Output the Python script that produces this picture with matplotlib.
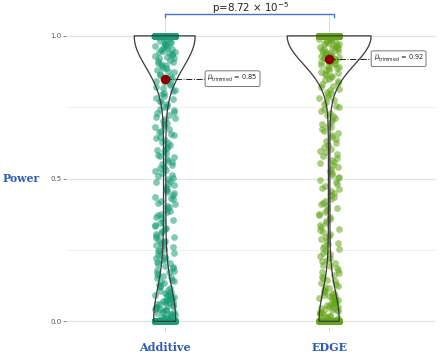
import numpy as np
import matplotlib
matplotlib.use("Agg")
import matplotlib.pyplot as plt

# ---------------- data ----------------
groups = ["Additive", "EDGE"]
group_colors = ["#1B9E77", "#66A61E"]

# number of simulations with power exactly 1 and exactly 0
additive_at_one = 1300
additive_at_zero = 430
edge_at_one = 2100
edge_at_zero = 470

additive_values = [
    0.995, 0.991, 0.988, 0.984, 0.982, 0.979, 0.976, 0.973, 0.971, 0.968, 0.965, 0.963, 0.959,
    0.957, 0.954, 0.951, 0.948, 0.945, 0.943, 0.939, 0.936, 0.934, 0.930, 0.927, 0.924, 0.921,
    0.917, 0.913, 0.910, 0.905, 0.901, 0.897, 0.894, 0.889, 0.886, 0.881, 0.877, 0.872, 0.868,
    0.863, 0.858, 0.853, 0.849, 0.843, 0.838, 0.833, 0.827, 0.822, 0.816, 0.811, 0.806, 0.801,
    0.795, 0.790, 0.783, 0.779, 0.772, 0.767, 0.762, 0.756, 0.751, 0.745, 0.741, 0.734, 0.729,
    0.723, 0.717, 0.713, 0.707, 0.701, 0.696, 0.691, 0.684, 0.679, 0.674, 0.668, 0.662, 0.657,
    0.651, 0.645, 0.641, 0.634, 0.629, 0.623, 0.617, 0.611, 0.606, 0.600,
    0.596, 0.591, 0.584, 0.580, 0.574, 0.568, 0.563, 0.558, 0.552, 0.547, 0.541, 0.536, 0.530,
    0.525, 0.519, 0.514, 0.509, 0.503, 0.497, 0.492, 0.487, 0.481, 0.476, 0.470, 0.465, 0.459,
    0.454, 0.449, 0.443, 0.437, 0.432, 0.427, 0.421, 0.415, 0.410, 0.405, 0.399, 0.394, 0.388,
    0.383, 0.377, 0.371, 0.366, 0.361, 0.355, 0.349, 0.344, 0.339, 0.333, 0.327, 0.322, 0.317,
    0.311, 0.305, 0.300,
    0.296, 0.291, 0.286, 0.282, 0.277, 0.273, 0.268, 0.263, 0.259, 0.254, 0.249, 0.245, 0.240,
    0.236, 0.231, 0.226, 0.222, 0.217, 0.213, 0.208, 0.204, 0.199, 0.194, 0.190, 0.186, 0.181,
    0.177, 0.172, 0.168, 0.163, 0.159, 0.154, 0.150, 0.146, 0.141, 0.137, 0.133, 0.128, 0.124,
    0.120, 0.115, 0.111, 0.107, 0.103,
    0.099, 0.097, 0.094, 0.092, 0.090, 0.088, 0.086, 0.083, 0.081, 0.079, 0.077, 0.075, 0.072,
    0.070, 0.068, 0.066, 0.064, 0.062, 0.059, 0.057, 0.055, 0.053, 0.051, 0.049, 0.046, 0.044,
    0.042, 0.040, 0.038, 0.036, 0.033, 0.031, 0.029, 0.027, 0.025, 0.023, 0.020, 0.018, 0.016,
    0.014, 0.012, 0.010, 0.007, 0.005, 0.003,
]

edge_values = [
    0.996, 0.993, 0.991, 0.989, 0.986, 0.984, 0.982, 0.980, 0.977, 0.975, 0.973, 0.971, 0.968,
    0.966, 0.964, 0.962, 0.959, 0.957, 0.955, 0.952, 0.950, 0.948, 0.945, 0.943, 0.941, 0.938,
    0.936, 0.933, 0.931, 0.928, 0.926, 0.923, 0.921, 0.918, 0.915, 0.913, 0.910, 0.907, 0.904,
    0.901, 0.898, 0.895, 0.892, 0.889, 0.886, 0.882, 0.879, 0.875, 0.871, 0.867, 0.863, 0.859,
    0.855, 0.850, 0.846, 0.841, 0.836, 0.831, 0.826, 0.821, 0.815, 0.810, 0.804, 0.799,
    0.793, 0.787, 0.781, 0.775, 0.769, 0.763, 0.756, 0.750, 0.744, 0.737, 0.731, 0.724, 0.718,
    0.711, 0.705, 0.698, 0.692, 0.685, 0.679, 0.672, 0.666, 0.659, 0.652, 0.646, 0.639, 0.632,
    0.626, 0.619, 0.612, 0.605,
    0.598, 0.592, 0.585, 0.579, 0.572, 0.566, 0.559, 0.553, 0.546, 0.540, 0.533, 0.527, 0.520,
    0.514, 0.507, 0.501, 0.494, 0.488, 0.481, 0.475, 0.468, 0.462, 0.455, 0.449, 0.442, 0.436,
    0.429, 0.423, 0.416, 0.410, 0.403, 0.397, 0.390, 0.384, 0.377, 0.371, 0.364, 0.358, 0.351,
    0.345, 0.338, 0.332, 0.325, 0.319, 0.312, 0.306, 0.300,
    0.294, 0.288, 0.282, 0.276, 0.270, 0.264, 0.258, 0.252, 0.246, 0.240, 0.234, 0.228, 0.222,
    0.216, 0.210, 0.204, 0.198, 0.192, 0.186, 0.180, 0.174, 0.168, 0.162, 0.156, 0.150, 0.145,
    0.140, 0.135, 0.130, 0.125, 0.120, 0.115, 0.110, 0.105, 0.101,
    0.098, 0.095, 0.093, 0.090, 0.088, 0.085, 0.083, 0.080, 0.078, 0.075, 0.073, 0.070, 0.068,
    0.065, 0.063, 0.060, 0.058, 0.055, 0.053, 0.050, 0.048, 0.045, 0.043, 0.040, 0.038, 0.035,
    0.033, 0.030, 0.028, 0.025, 0.023, 0.020, 0.018, 0.015, 0.013, 0.010, 0.008, 0.005, 0.003,
]

trimmed_means = [0.85, 0.92]
p_value_text = r"p=8.72 $\times$ 10$^{-5}$"

# ---------------- figure ----------------
blue = "#2F5DB5"
fig = plt.figure(figsize=(4.40, 3.62), dpi=100)
ax = fig.add_axes([0.15, 0.0967, 0.841, 0.820])
ax.set_xlim(0.40, 2.65)
ax.set_ylim(-0.02, 1.02)

datasets = [
    np.array(additive_values + [1.0] * additive_at_one + [0.0] * additive_at_zero),
    np.array(edge_values + [1.0] * edge_at_one + [0.0] * edge_at_zero),
]

# grid
for yv in [0.0, 0.5, 1.0]:
    ax.axhline(yv, color="#e3e3e3", lw=0.9, zorder=0)
for yv in [0.25, 0.75]:
    ax.axhline(yv, color="#eeeeee", lw=0.6, zorder=0)

# jittered points (deterministic hash-based horizontal jitter)
jit = 0.062
for i, (d, c) in enumerate(zip(datasets, group_colors)):
    n = len(d)
    k = np.arange(n) + 7 * i
    u = (np.sin(k * 12.9898 + 78.233) * 43758.5453) % 1.0
    offs = (u - 0.5) * 2 * jit
    ax.scatter(i + 1 + offs, d, s=24, color=c, alpha=0.55, linewidths=0, zorder=2)

# violins
vp = ax.violinplot(datasets, positions=[1, 2], widths=[0.37, 0.51],
                   showextrema=False, bw_method=0.25)
for b in vp["bodies"]:
    b.set_facecolor("none")
    b.set_edgecolor("#3a3a3a")
    b.set_linewidth(0.9)
    b.set_alpha(1)
    b.set_zorder(3)

# trimmed means + labels
label_x = [1.26, 2.27]
for i, (m, lx) in enumerate(zip(trimmed_means, label_x)):
    ax.plot([i + 1, lx], [m, m], color="#222222", lw=0.7, ls="-.", zorder=4)
    ax.scatter([i + 1], [m], s=48, color="#8B0000", zorder=5, linewidths=0)
    ax.text(lx, m, r"$\widehat{\mu}_{\mathrm{trimmed}}$ = " + f"{m:.2f}",
            fontsize=4.8, ha="left", va="center", color="#222222", zorder=6,
            bbox=dict(boxstyle="round,pad=0.35,rounding_size=0.25", fc="white",
                      ec="#777777", lw=0.7))

# significance bracket
yb = 1.077
ax.plot([1, 1], [1.01, yb], color="#dddddd", lw=0.8, clip_on=False, zorder=1)
ax.plot([2, 2], [1.01, yb], color="#dddddd", lw=0.8, clip_on=False, zorder=1)
ax.plot([1.0, 1.0, 2.03, 2.03], [yb - 0.012, yb, yb, yb - 0.012], color="#4472C4",
        lw=1.0, clip_on=False, zorder=2)
ax.text(1.52, 1.083, p_value_text, ha="center", va="baseline", fontsize=7.4,
        color="#222222", clip_on=False)

# axes styling
for s in ax.spines.values():
    s.set_visible(False)
ax.set_yticks([0.0, 0.5, 1.0])
ax.set_yticklabels(["0.0", "0.5", "1.0"])
ax.tick_params(axis="y", labelsize=5, colors="#555555", length=2, width=0.5, pad=1)
ax.set_xticks([1, 2])
ax.set_xticklabels(groups, fontsize=8, fontweight="bold", family="DejaVu Serif", color=blue)
ax.tick_params(axis="x", length=3, width=0.5, color="#bbbbbb", pad=8)
fig.text(0.005, 1 - 179 / 362, "Power", fontsize=7.8, fontweight="bold",
         family="DejaVu Serif", color=blue, ha="left", va="center")

fig.savefig("out.png", dpi=100)
